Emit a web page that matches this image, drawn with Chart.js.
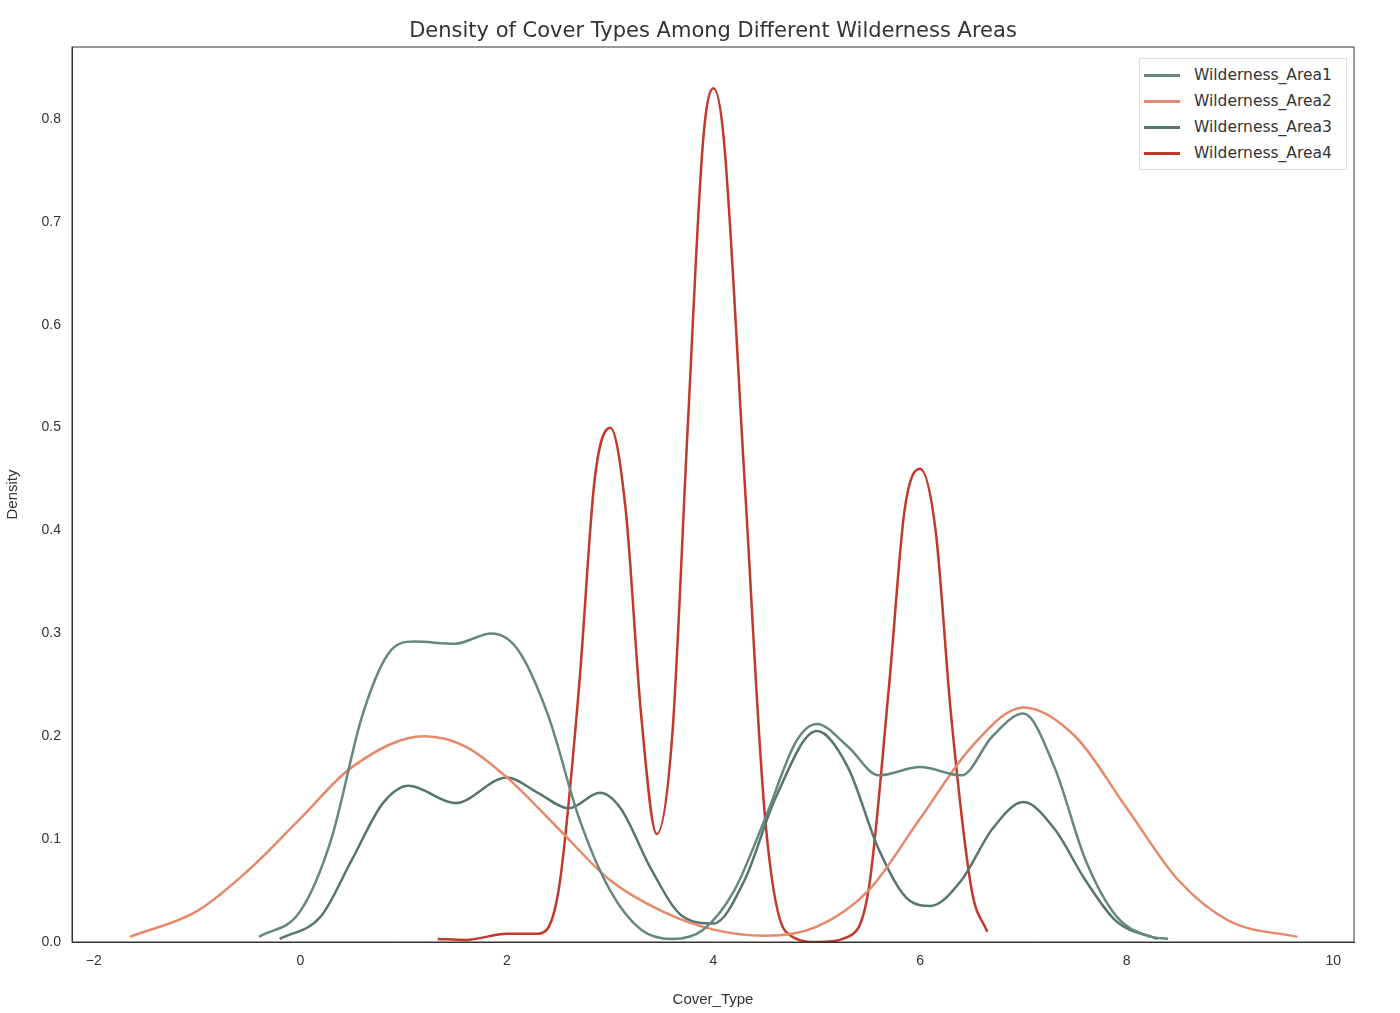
<!DOCTYPE html>
<html>
<head>
<meta charset="utf-8">
<script src="https://cdn.jsdelivr.net/npm/chart.js@4"></script>
<style>
  body { margin: 0; background: #fff; font-family: "DejaVu Sans", sans-serif; }
  #wrap { position: relative; width: 1400px; height: 1013px; }
  #title { position: absolute; top: 18px; left: 72px; width: 1282px; text-align: center; font-size: 21px; color: #333; }
  #legend { position: absolute; top: 58px; left: 1139px; width: 206px; border: 1px solid #ddd; background: #fff; padding: 3px 0; font-size: 15.5px; color: #333; }
  #legend div { height: 26px; line-height: 26px; }
  #legend span { display: inline-block; width: 36px; height: 3px; vertical-align: middle; margin: 0 14px 0 4px; }
</style>
</head>
<body>
<div id="wrap">
  <canvas id="c" width="1400" height="1013"></canvas>
  <div id="title">Density of Cover Types Among Different Wilderness Areas</div>
  <div id="legend"></div>
</div>
<script>
// KDE curves, as [x, density]
const area1 = [[-0.4,0.005],[0,0.03],[0.3,0.1],[0.6,0.22],[0.85,0.28],[1.1,0.292],[1.5,0.29],[1.85,0.3],[2.1,0.285],[2.4,0.22],[2.7,0.12],[3.0,0.05],[3.3,0.012],[3.6,0.003],[3.9,0.012],[4.2,0.05],[4.5,0.12],[4.8,0.195],[5.0,0.212],[5.3,0.19],[5.6,0.162],[6.0,0.17],[6.4,0.162],[6.7,0.2],[7.0,0.222],[7.3,0.17],[7.6,0.08],[7.9,0.025],[8.2,0.006],[8.4,0.003]];
const area2 = [[-1.65,0.005],[-1,0.03],[-0.5,0.07],[0,0.12],[0.5,0.17],[1.2,0.2],[1.6,0.19],[2,0.16],[2.5,0.11],[3,0.06],[3.5,0.03],[4,0.012],[4.5,0.006],[5,0.015],[5.5,0.05],[6,0.12],[6.5,0.19],[7,0.228],[7.5,0.2],[8,0.13],[8.5,0.06],[9,0.02],[9.65,0.005]];
const area3 = [[-0.2,0.003],[0.2,0.025],[0.5,0.08],[0.8,0.135],[1.05,0.152],[1.5,0.135],[2.0,0.16],[2.3,0.145],[2.6,0.13],[2.9,0.145],[3.1,0.13],[3.4,0.07],[3.7,0.025],[4.0,0.018],[4.3,0.06],[4.6,0.14],[5.0,0.205],[5.3,0.17],[5.6,0.09],[5.9,0.04],[6.1,0.035],[6.4,0.06],[6.7,0.11],[7.0,0.136],[7.3,0.11],[7.6,0.06],[7.9,0.02],[8.3,0.003]];
const area4 = [[1.33,0.003],[1.6,0.002],[2.0,0.008],[2.3,0.008],[2.5,0.05],[2.7,0.25],[2.85,0.45],[3.0,0.5],[3.15,0.42],[3.3,0.22],[3.45,0.105],[3.6,0.2],[3.75,0.5],[3.9,0.78],[4.0,0.83],[4.1,0.78],[4.3,0.45],[4.5,0.12],[4.7,0.01],[5.0,0.0],[5.3,0.005],[5.5,0.05],[5.7,0.25],[5.85,0.42],[6.0,0.46],[6.15,0.4],[6.3,0.22],[6.5,0.05],[6.65,0.01]];

const names = ['Wilderness_Area1', 'Wilderness_Area2', 'Wilderness_Area3', 'Wilderness_Area4'];
const series = [area1, area2, area3, area4];
const colors = ['#64887d', '#e5896a', '#56766d', '#c0392b'];

const legend = document.getElementById('legend');
names.forEach((n, i) => {
  legend.innerHTML += '<div><span style="background:' + colors[i] + '"></span>' + n + '</div>';
});

const boxPlugin = {
  id: 'box',
  afterDraw(chart) {
    const a = chart.chartArea, ctx = chart.ctx;
    ctx.save();
    ctx.strokeStyle = '#333';
    ctx.lineWidth = 1;
    ctx.strokeRect(a.left, a.top, a.right - a.left, a.bottom - a.top);
    ctx.restore();
  }
};

new Chart(document.getElementById('c'), {
  type: 'line',
  data: {
    datasets: series.map((s, i) => ({
      label: names[i],
      data: s.map(p => ({ x: p[0], y: p[1] })),
      borderColor: colors[i],
      borderWidth: 2.5,
      pointRadius: 0,
      fill: false,
      cubicInterpolationMode: 'monotone'
    }))
  },
  options: {
    responsive: false,
    animation: false,
    layout: { padding: { top: 47, right: 46, left: 0, bottom: 0 } },
    plugins: { legend: { display: false }, tooltip: { enabled: false } },
    scales: {
      x: {
        type: 'linear', min: -2.21, max: 10.2,
        grid: { display: false, drawTicks: true },
        border: { color: '#333' },
        ticks: { stepSize: 2, color: '#333', font: { size: 14 },
          callback: v => Number.isInteger(v) && v % 2 === 0 ? (v < 0 ? '\u2212' + (-v) : v) : null },
        afterBuildTicks: s => { s.ticks = [-2, 0, 2, 4, 6, 8, 10].map(v => ({ value: v })); },
        title: { display: true, text: 'Cover_Type', color: '#333', font: { size: 15 } },
        afterFit: s => { s.height = 71; }
      },
      y: {
        min: 0, max: 0.87,
        grid: { display: false },
        border: { color: '#333' },
        afterBuildTicks: s => { s.ticks = [0, 0.1, 0.2, 0.3, 0.4, 0.5, 0.6, 0.7, 0.8].map(v => ({ value: v })); },
        ticks: { color: '#333', font: { size: 14 }, callback: v => v.toFixed(1) },
        title: { display: true, text: 'Density', color: '#333', font: { size: 15 } },
        afterFit: s => { s.width = 72; }
      }
    }
  },
  plugins: [boxPlugin]
});
</script>
</body>
</html>
